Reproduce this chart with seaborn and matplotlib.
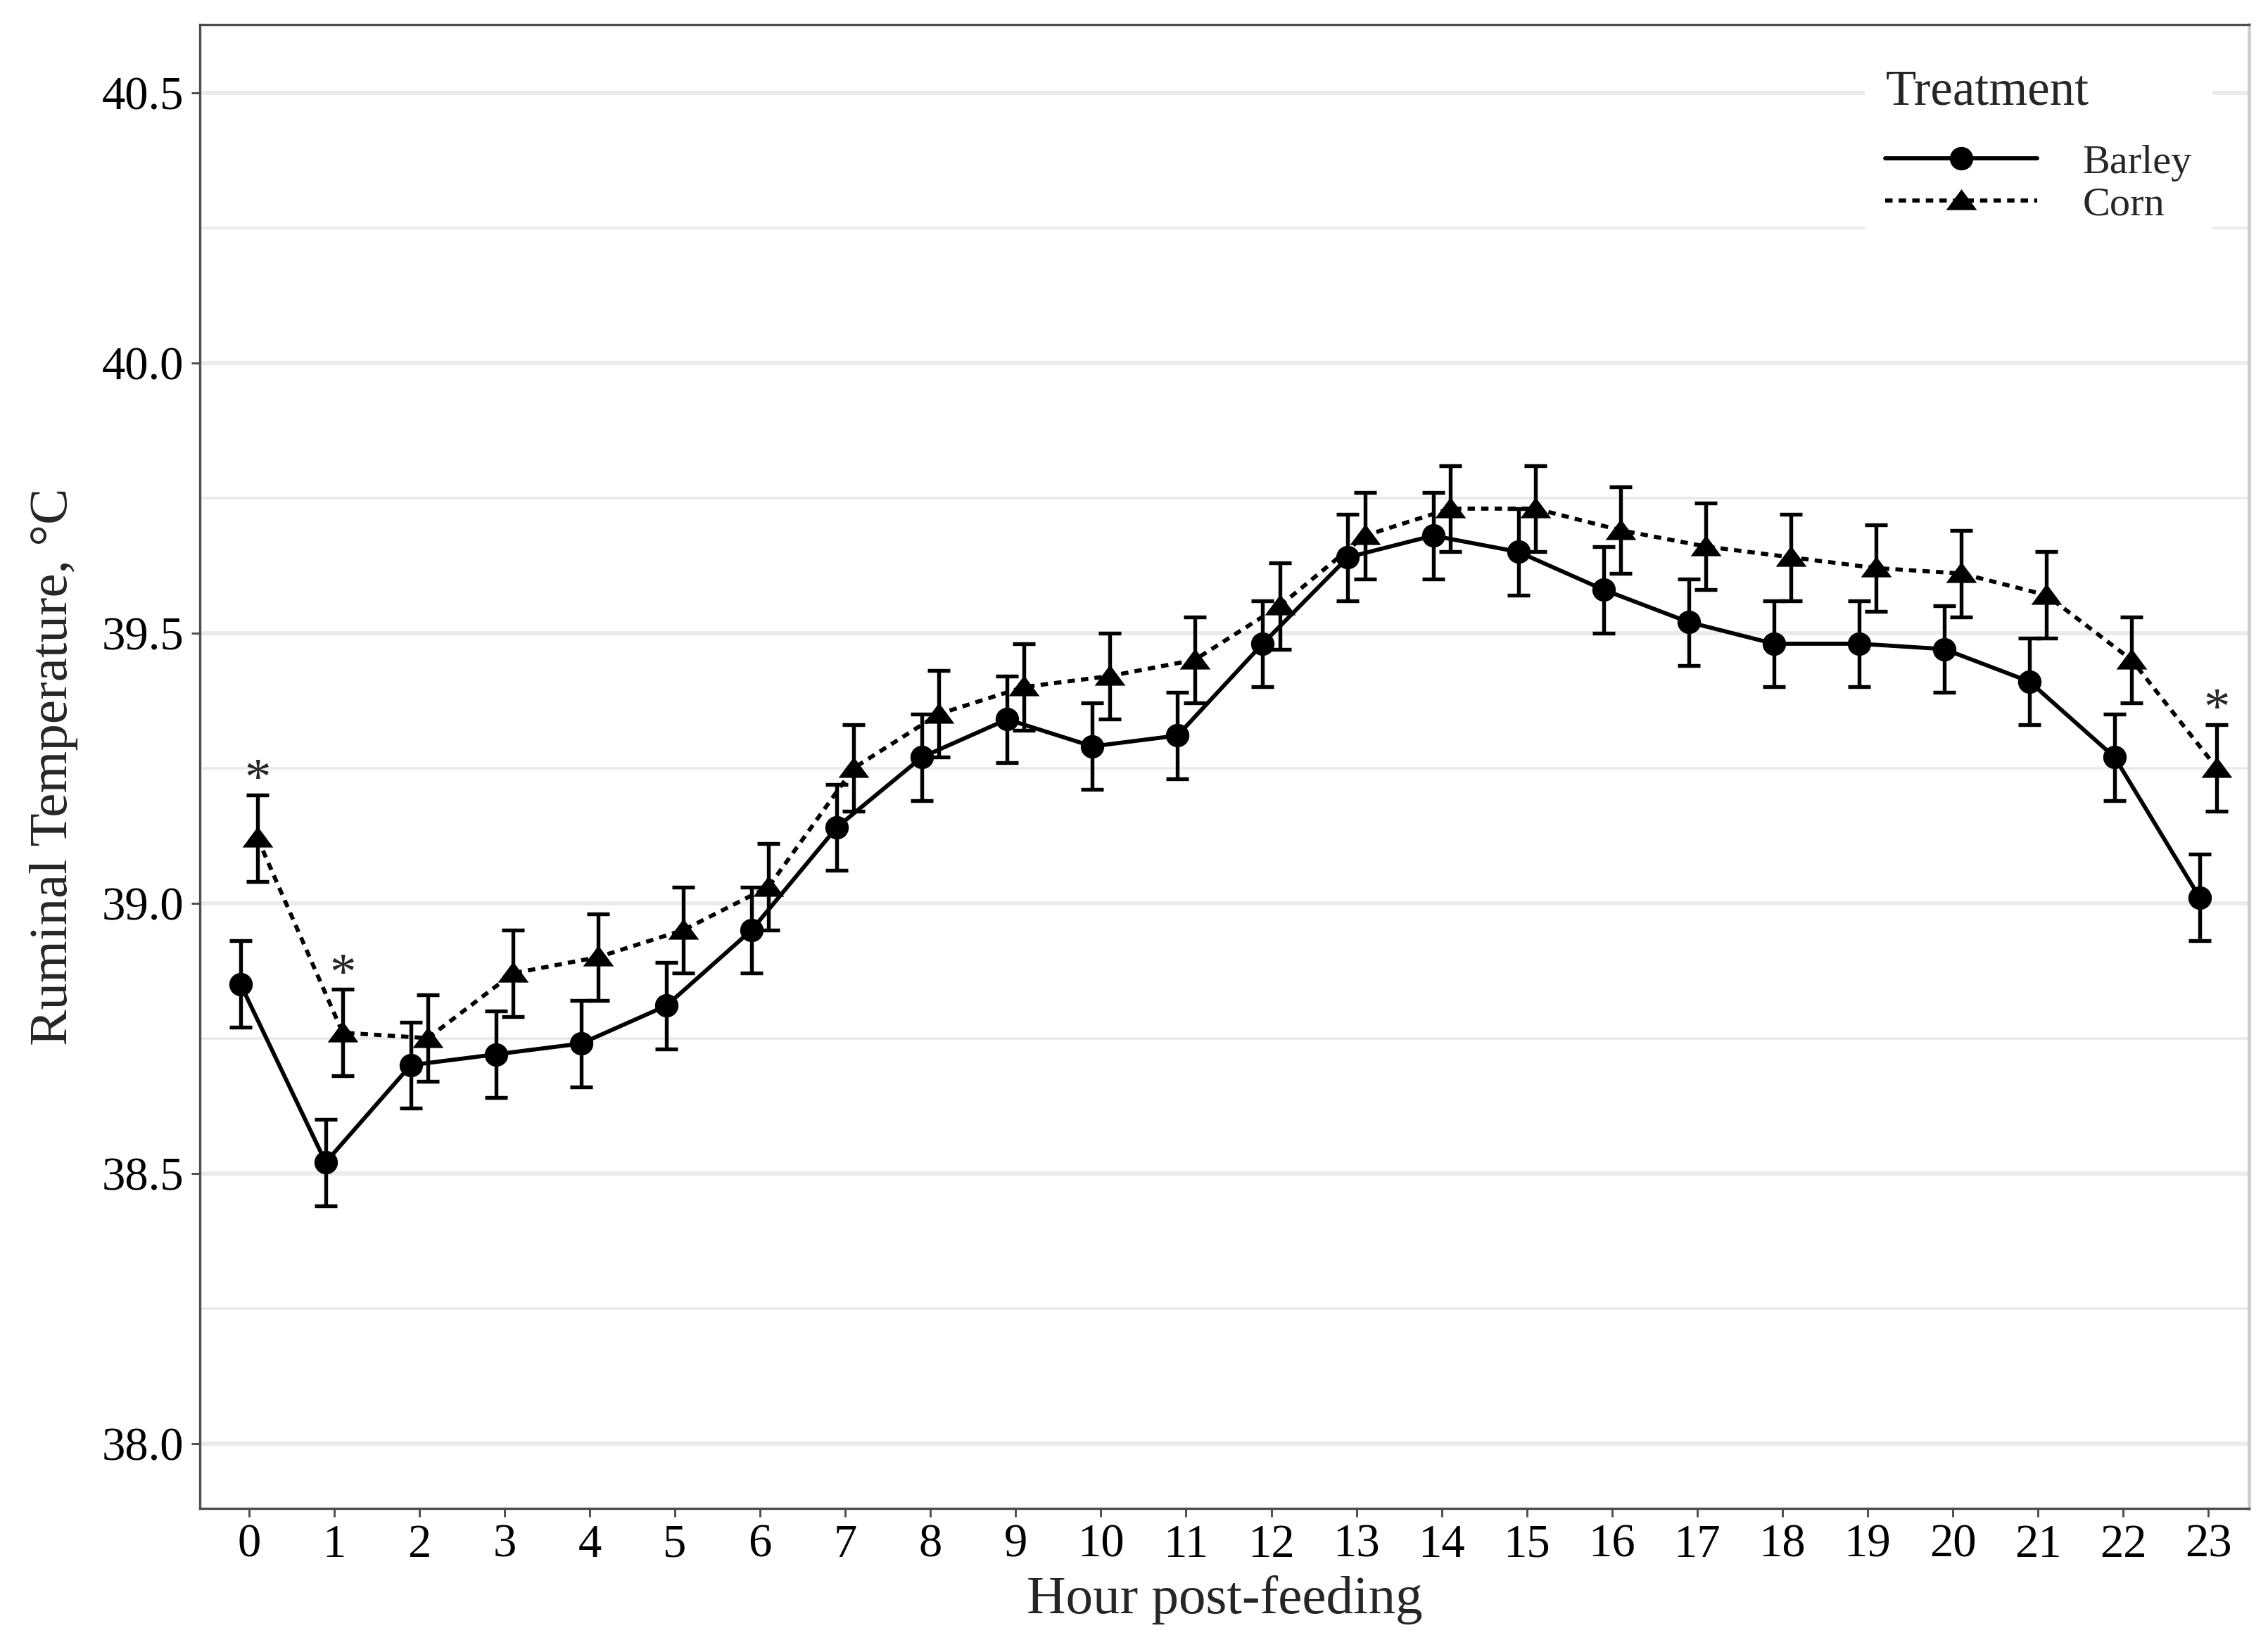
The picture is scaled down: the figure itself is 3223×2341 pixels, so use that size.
import numpy as np
import pandas as pd
import matplotlib
matplotlib.use("Agg")
import matplotlib.pyplot as plt
from matplotlib.ticker import MultipleLocator, FormatStrFormatter
import seaborn as sns

# --- dati ---
hours = list(range(24))
barley_mean = [38.85, 38.52, 38.70, 38.72, 38.74, 38.81, 38.95, 39.14, 39.27, 39.34,
               39.29, 39.31, 39.48, 39.64, 39.68, 39.65, 39.58, 39.52, 39.48, 39.48,
               39.47, 39.41, 39.27, 39.01]
corn_mean = [39.12, 38.76, 38.75, 38.87, 38.90, 38.95, 39.03, 39.25, 39.35, 39.40,
             39.42, 39.45, 39.55, 39.68, 39.73, 39.73, 39.69, 39.66, 39.64, 39.62,
             39.61, 39.57, 39.45, 39.25]
barley_se = [0.08] * 24
corn_se = [0.08] * 24
signif_hours = [0, 1, 23]
treatments = ["Barley", "Corn"]

DODGE = 0.1
LW = 1.4

df = pd.DataFrame({
    "hour": hours * 2,
    "temp": barley_mean + corn_mean,
    "se": barley_se + corn_se,
    "Treatment": ["Barley"] * 24 + ["Corn"] * 24,
})
df["xpos"] = df["hour"] + np.where(df["Treatment"] == "Barley", -DODGE, DODGE)

sns.set_theme(style="white")
plt.rcParams["font.family"] = ["Liberation Serif", "DejaVu Serif"]

fig = plt.figure(figsize=(3223 / 300, 2341 / 300), dpi=300)
ax = fig.add_axes([0.0880, 0.0843, 0.9037, 0.9008])

tri = [(-1, -0.6), (1, -0.6), (0, 0.75), (-1, -0.6)]

# barre di errore (SE)
for trt in treatments:
    sub = df[df["Treatment"] == trt]
    ax.errorbar(sub["xpos"], sub["temp"], yerr=sub["se"], fmt="none",
                ecolor="black", elinewidth=1.3, capsize=3.8, capthick=1.3, zorder=3)

sns.lineplot(data=df, x="xpos", y="temp", hue="Treatment", style="Treatment",
             palette=["black", "black"], markers={"Barley": "o", "Corn": tri},
             dashes={"Barley": "", "Corn": (1.8, 1.5)},
             markersize=10.5, markeredgewidth=0, linewidth=LW, ax=ax,
             sort=False, estimator=None, zorder=4)
for ln in ax.lines:
    if ln.get_marker() == "o":
        ln.set_markersize(8)

# asterischi
for h in signif_hours:
    y = corn_mean[h] + corn_se[h]
    ax.text(h + DODGE, y - 0.02, "*", ha="center", va="bottom", fontsize=18, zorder=5)

ax.set_xlim(-0.58, 23.48)
ax.set_ylim(37.88, 40.626)
ax.set_xticks(hours)
ax.set_xticklabels([str(h) for h in hours])
ax.yaxis.set_major_locator(MultipleLocator(0.5))
ax.yaxis.set_minor_locator(MultipleLocator(0.25))
ax.yaxis.set_major_formatter(FormatStrFormatter("%.1f"))

ax.grid(False)
ax.grid(axis="y", which="major", color="#EBEBEB", linewidth=1.4, zorder=0)
ax.grid(axis="y", which="minor", color="#EBEBEB", linewidth=0.9, zorder=0)
ax.set_axisbelow(True)

for side in ["left", "bottom", "top"]:
    ax.spines[side].set_color("#4d4d4d")
    ax.spines[side].set_linewidth(0.8)
ax.spines["right"].set_color("#d0d0d0")
ax.spines["right"].set_linewidth(1.2)

ax.tick_params(axis="both", which="major", direction="out", length=2.8, width=0.7,
               color="#4d4d4d", labelsize=16, labelcolor="black", pad=2.5,
               left=True, bottom=True)
ax.tick_params(axis="y", which="minor", length=0)

ax.set_xlabel("Hour post-feeding", fontsize=18.5, labelpad=3)
ax.set_ylabel("Ruminal Temperature, °C", fontsize=18.5, labelpad=8)

handles, labels = ax.get_legend_handles_labels()
leg = ax.legend(handles, labels, title="Treatment", loc="upper right",
                bbox_to_anchor=(0.9845, 0.983), bbox_transform=fig.transFigure,
                frameon=True, facecolor="white", edgecolor="white", framealpha=1,
                fontsize=14, title_fontsize=17, handlelength=3.7, handletextpad=1.1,
                labelspacing=0.12, alignment="left", borderpad=0.5)
leg.get_frame().set_linewidth(0)
leg._legend_box.sep = 10
for hd in leg.legend_handles:
    hd.set_linewidth(LW)
    hd.set_markersize(8 if hd.get_marker() == "o" else 10.5)

fig.savefig("out.png", dpi=300)
